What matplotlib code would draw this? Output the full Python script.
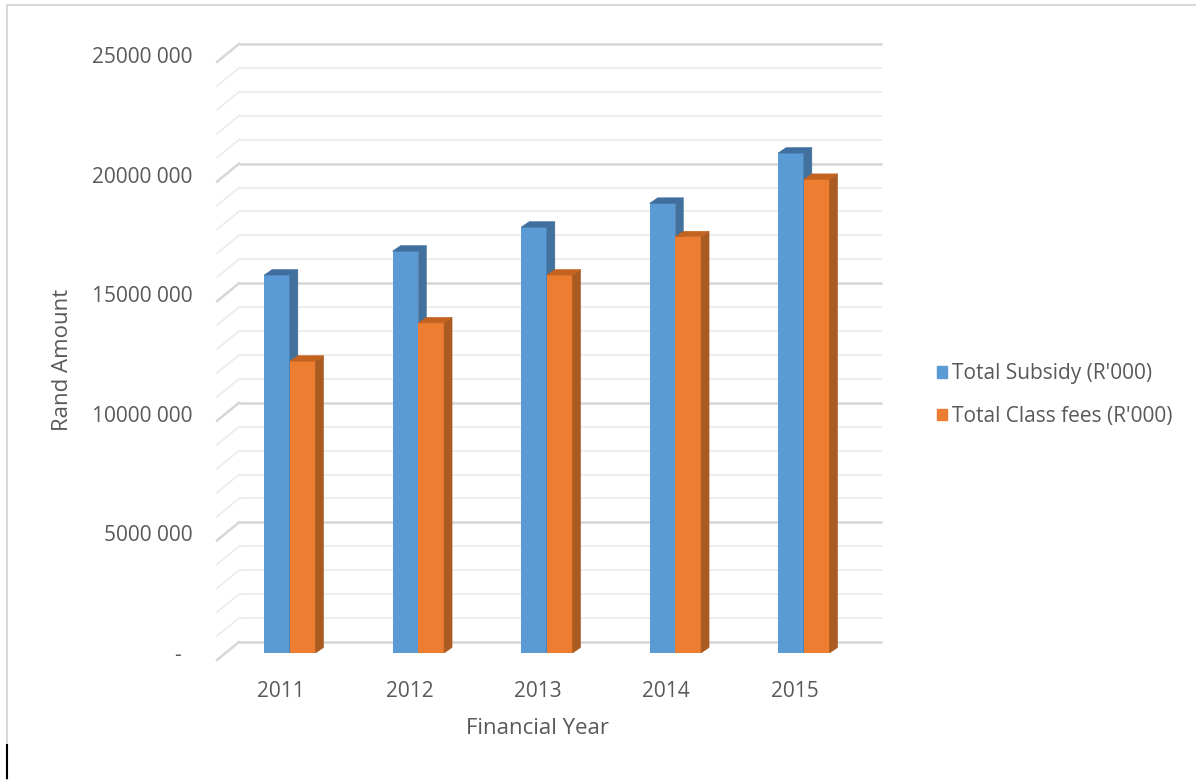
import numpy as np
import matplotlib.pyplot as plt
from matplotlib.patches import Polygon, Patch
from matplotlib.lines import Line2D
from matplotlib.ticker import FuncFormatter
from matplotlib.transforms import ScaledTranslation

years = ['2011', '2012', '2013', '2014', '2015']
subsidy = [15.8e6, 16.8e6, 17.8e6, 18.8e6, 20.9e6]
class_fees = [12.2e6, 13.8e6, 15.8e6, 17.4e6, 19.8e6]
y_ticks = [0, 5e6, 10e6, 15e6, 20e6, 25e6]
series_names = ["Total Subsidy (R'000)", "Total Class fees (R'000)"]

plt.rcParams['font.family'] = ['Open Sans', 'DejaVu Sans']
TEXT = '#595959'
BLUE, BLUE_SIDE, BLUE_TOP = '#5b9bd5', '#41719c', '#3f6e9f'
ORANGE, ORANGE_SIDE, ORANGE_TOP = '#ed7d31', '#a95b22', '#c4621f'

W, H = 1196, 780
fig = plt.figure(figsize=(W / 100, H / 100), dpi=100)

# front plane of the columns, in pixels
x0, x1 = 225.6, 868.1
y_base, y_top = 653, 55
ax = fig.add_axes([x0 / W, 1 - y_base / H, (x1 - x0) / W, (y_base - y_top) / H])
ax.set_xlim(-0.5, len(years) - 0.5)
ax.set_ylim(0, 25e6)

# pixel offsets -> data units for the fake 3d depth
px_x = len(years) / (x1 - x0)
px_y = 25e6 / (y_base - y_top)

def depth(dx, dy):
    return dx * px_x, dy * px_y

back = depth(13.4, 11)     # column front -> back wall
front = depth(-8.6, -7)    # column front -> front edge of the floor
bar_d = depth(8, 5.5)      # depth of a single column

# back wall + side wall gridlines
xl, xr = -0.5, len(years) - 0.5
for v in np.arange(0, 25e6 + 1, 1e6):
    major = v % 5e6 == 0
    c = '#d6d6d6' if major else '#ececec'
    lw = 1.8 if major else 1.3
    ax.plot([xl + back[0], xr + back[0]], [v + back[1]] * 2,
            color=c, lw=lw, clip_on=False, zorder=1, solid_capstyle='butt')
    ax.plot([xl + front[0], xl + back[0]], [v + front[1], v + back[1]],
            color=c, lw=lw, clip_on=False, zorder=1)

w = 0.2

def draw_bar(x_left, v, face, side, top):
    dx, dy = bar_d
    ax.bar(x_left, v, width=w, align='edge', color=face, lw=0, zorder=3)
    ax.add_patch(Polygon([(x_left + w, 0), (x_left + w + dx, dy),
                          (x_left + w + dx, v + dy), (x_left + w, v)],
                         closed=True, facecolor=side, edgecolor=side, lw=0.4, zorder=3))
    ax.add_patch(Polygon([(x_left, v), (x_left + dx, v + dy),
                          (x_left + w + dx, v + dy), (x_left + w, v)],
                         closed=True, facecolor=top, edgecolor=top, lw=0.4, zorder=3))

for i in range(len(years)):
    draw_bar(i - w, subsidy[i], BLUE, BLUE_SIDE, BLUE_TOP)
    draw_bar(i, class_fees[i], ORANGE, ORANGE_SIDE, ORANGE_TOP)

def rand_fmt(v, pos):
    if v == 0:
        return '-  '
    return f"{int(v / 1000)} 000"

ax.set_yticks(y_ticks)
ax.yaxis.set_major_formatter(FuncFormatter(rand_fmt))
ax.set_xticks(range(len(years)), years)
ax.tick_params(axis='y', length=0, pad=24, labelsize=15, labelcolor=TEXT)
ax.tick_params(axis='x', length=0, pad=20, labelsize=15, labelcolor=TEXT)
shift = ScaledTranslation(-9 / 100, 0, fig.dpi_scale_trans)
for lab in ax.get_xticklabels():
    lab.set_transform(lab.get_transform() + shift)

for s in ax.spines.values():
    s.set_visible(False)
ax.patch.set_visible(False)

fig.text(538 / W, 1 - 729 / H, 'Financial Year', ha='center', va='center',
         fontsize=16, color=TEXT)
fig.text(62 / W, 1 - 360 / H, 'Rand Amount', ha='center', va='center',
         rotation=90, fontsize=16, color=TEXT)

handles = [Patch(color=BLUE), Patch(color=ORANGE)]
fig.legend(handles, series_names, loc='center left',
           bbox_to_anchor=(918 / W, 1 - 395 / H), frameon=False, fontsize=15,
           handlelength=0.5, handleheight=0.5, handletextpad=0.25,
           labelspacing=1.05, labelcolor=TEXT)

# chart area border (top and left) and the stray cursor mark
fig.add_artist(Line2D([7 / W, 1], [1 - 5 / H] * 2, color='#d9d9d9', lw=1.5))
fig.add_artist(Line2D([7 / W] * 2, [0, 1 - 5 / H], color='#d9d9d9', lw=1.5))
fig.add_artist(Line2D([7 / W] * 2, [2 / H, 35 / H], color='black', lw=1.5))

fig.savefig('out.png', dpi=100)
